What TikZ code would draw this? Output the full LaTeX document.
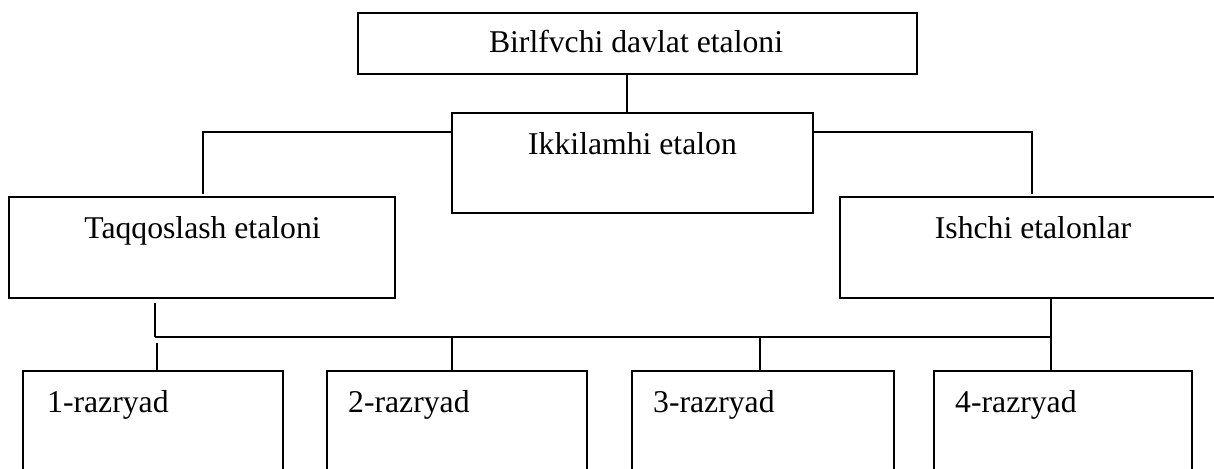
\documentclass[tikz,border=0pt]{standalone}
\usepackage{fontspec}
\setmainfont{Liberation Serif}
\begin{document}
\begin{tikzpicture}[x=1pt,y=-1pt,
  boxnode/.style n args={2}{draw, line width=2.2pt, inner sep=0pt, minimum width=#1, minimum height=#2},
  lbl/.style={inner sep=0pt, font=\fontsize{31.7}{38}\selectfont},
  conn/.style={line width=1.6pt},
  thinconn/.style={line width=1.3pt}]
\useasboundingbox (0,0) rectangle (1214,468);
\clip (0,0) rectangle (1214,468);
\fill[white] (0,0) rectangle (1214,468);
% boxes
\node[boxnode={559pt}{61pt}] (top) at (637.5,43.5) {};
\node[boxnode={361pt}{100pt}] (ikk) at (632.5,163) {};
\node[boxnode={386pt}{101pt}] (taq) at (202,247.5) {};
\node[boxnode={386pt}{101pt}] (ish) at (1033,247.5) {};
\node[boxnode={260pt}{109pt}] (b1) at (153,425.5) {};
\node[boxnode={260pt}{109pt}] (b2) at (457,425.5) {};
\node[boxnode={262pt}{109pt}] (b3) at (763,425.5) {};
\node[boxnode={258pt}{109pt}] (b4) at (1063,425.5) {};
% texts
\node[lbl, anchor=base] (ttop) at (636,53) {Birlfvchi davlat etaloni};
\node[lbl, anchor=base] (tikk) at (632.5,154) {Ikkilamhi etalon};
\node[lbl, anchor=base] (ttaq) at (202.5,238) {Taqqoslash etaloni};
\node[lbl, anchor=base] (tish) at (1033,238) {Ishchi etalonlar};
\node[lbl, anchor=base west] (tb1) at (47,412) {1-razryad};
\node[lbl, anchor=base west] (tb2) at (348,412) {2-razryad};
\node[lbl, anchor=base west] (tb3) at (653,412) {3-razryad};
\node[lbl, anchor=base west] (tb4) at (955,412) {4-razryad};
% connector points
\coordinate (j1) at (627,0);
\coordinate (jl) at (203,194);
\coordinate (jr) at (1032,194);
\coordinate (tq) at (155,303);
\coordinate (busL) at (155,337);
\coordinate (busR) at (1051,337);
\coordinate (d1) at (157,343);
\coordinate (d2) at (452,337);
\coordinate (d3) at (760,337);
% connectors
\draw[conn] (top.south -| j1) -- (ikk.north -| j1);
\draw[conn] ([yshift=-20pt]ikk.north west) -| (jl);
\draw[conn] ([yshift=-20pt]ikk.north east) -| (jr);
\draw[thinconn] (tq) -- (busL);
\draw[conn] (busL) -- (busR);
\draw[conn] (ish.south -| busR) -- (b4.north -| busR);
\draw[thinconn] (d1) -- (d1 |- b1.north);
\draw[conn] (d2) -- (d2 |- b2.north);
\draw[conn] (d3) -- (d3 |- b3.north);
\end{tikzpicture}
\end{document}
